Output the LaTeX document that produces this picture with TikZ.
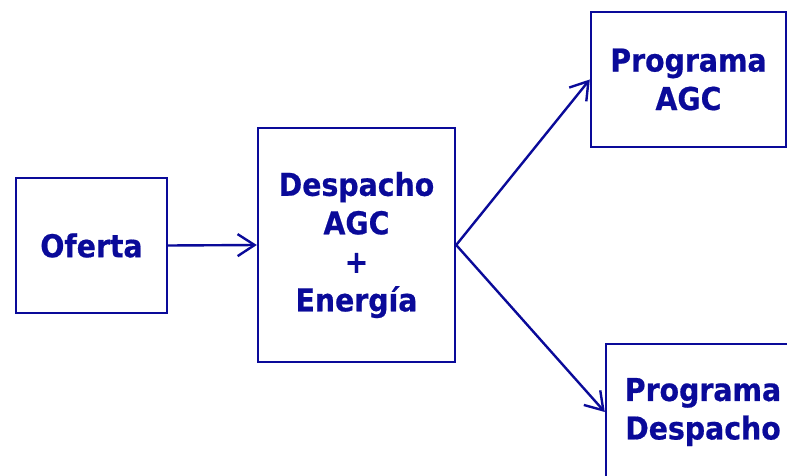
\documentclass[tikz,border=0pt]{standalone}
\usepackage{fontspec}
\newfontfamily\labfont{DejaVu Sans}[FakeStretch=0.9,FakeBold=0.6]
\usetikzlibrary{arrows.meta}
\definecolor{navy}{RGB}{10,10,153}
\tikzset{
  box/.style={draw=navy, line width=2.4pt, rectangle, inner sep=0pt, align=center,
    text=navy, font=\labfont\bfseries\fontsize{31.5}{38.5}\selectfont},
  link/.style={draw=navy, line width=2.4pt, -{Straight Barb[length=17pt,width=22pt]}}
}
\begin{document}
\begin{tikzpicture}[x=1pt,y=-1pt]
\clip (0,0) rectangle (787,476);
\node[box, minimum width=151pt, minimum height=135pt] (oferta) at (91.5,245.5) {Oferta};
\node[box, minimum width=197pt, minimum height=234pt] (desp) at (356.5,245) {Despacho\\AGC\\+\\Energía};
\node[box, minimum width=195pt, minimum height=135pt] (pagc) at (688.5,79.5) {Programa\\AGC};
\node[box, minimum width=194pt, minimum height=136pt] (pdesp) at (703,412) {Programa\\Despacho};
\draw[link] (oferta.east) -- (desp.west);
\draw[link] (desp.east) -- (pagc.west);
\draw[link] (desp.east) -- (pdesp.west);
\end{tikzpicture}
\end{document}
